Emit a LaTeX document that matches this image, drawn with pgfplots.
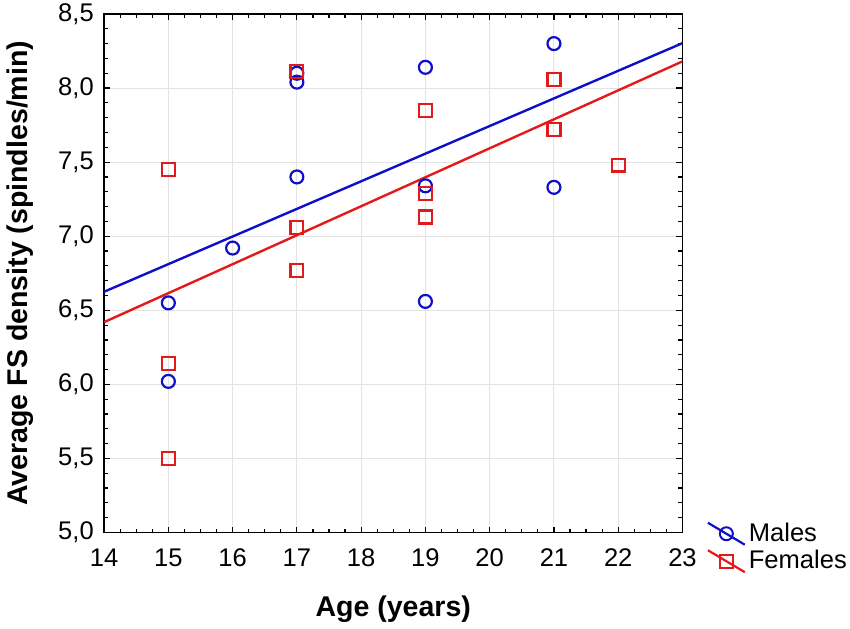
\documentclass[border=0pt]{standalone}
\usepackage{fontspec}
\setmainfont{Liberation Sans}
\usepackage{pgfplots}
\pgfplotsset{compat=1.18}
\definecolor{mblue}{RGB}{15,15,200}
\definecolor{fred}{RGB}{228,25,25}
\begin{document}
\begin{tikzpicture}
\begin{axis}[
  scale only axis,
  width=290pt, height=260pt,
  xmin=14, xmax=23, ymin=5, ymax=8.5,
  xtick={14,...,23},
  ytick={5,5.5,...,8.5},
  minor x tick num=3,
  minor y tick num=4,
  tick align=inside,
  major tick length=3pt,
  minor tick length=2pt,
  every tick/.style={black, line width=0.6pt},
  axis line style={black, line width=0.9pt},
  grid=major,
  major grid style={gray!22, line width=0.5pt},
  /pgf/number format/assume math mode=true,
  yticklabel style={/pgf/number format/fixed, /pgf/number format/fixed zerofill, /pgf/number format/precision=1, /pgf/number format/use comma, anchor=east, inner sep=0pt, xshift=-5pt},
  xticklabel style={/pgf/number format/fixed, /pgf/number format/precision=0, anchor=north, inner sep=0pt, yshift=-8pt},
  ticklabel style={font=\fontsize{12.8}{14}\selectfont},
  xlabel={Age (years)},
  ylabel={Average FS density (spindles/min)},
  label style={font=\fontsize{14.3}{17}\selectfont\bfseries},
  xlabel style={at={(axis description cs:0.5,0)}, anchor=base, yshift=-42pt},
  ylabel style={at={(axis description cs:0,0.5)}, anchor=base, yshift=38.5pt},
  legend style={draw=none, fill=none, at={(axis description cs:1,0)}, anchor=west,
    xshift=12pt, yshift=-7.5pt, font=\fontsize{12.8}{14}\selectfont,
    row sep=0pt, inner sep=0pt, nodes={inner sep=1.5pt}},
  legend cell align=left,
]
\addplot[mblue, line width=1.2pt, forget plot] coordinates {(14,6.625) (23,8.303)};
\addplot[fred, line width=1.2pt, forget plot] coordinates {(14,6.42) (23,8.18)};
\addplot[only marks, mark=o, mark size=3.25pt, mblue, mark options={line width=1.1pt}, forget plot] coordinates {
(15,6.55) (15,6.02) (16,6.92) (17,8.10) (17,8.04) (17,7.40)
(19,8.14) (19,7.34) (19,6.56) (21,8.30) (21,7.33)
};
\addplot[only marks, mark=square, mark size=3.25pt, fred, mark options={line width=1.1pt}, forget plot] coordinates {
(15,7.45) (15,6.14) (15,5.50) (17,8.11) (17,7.06) (17,6.77)
(19,7.85) (19,7.29) (19,7.13) (21,8.06) (21,7.72) (22,7.48)
};
\addlegendimage{mblue, line width=1.1pt, mark=o, mark size=3.25pt, mark options={line width=1pt},
  legend image code/.code={\draw[mark repeat=2, mark phase=2] plot coordinates {(0pt,5.5pt) (9.25pt,0pt) (18.5pt,-5.5pt)};}}
\addlegendentry{Males}
\addlegendimage{fred, line width=1.1pt, mark=square, mark size=3.25pt, mark options={line width=1pt},
  legend image code/.code={\draw[mark repeat=2, mark phase=2] plot coordinates {(0pt,5.5pt) (9.25pt,0pt) (18.5pt,-5.5pt)};}}
\addlegendentry{Females}
\end{axis}
\path[use as bounding box] (-51pt,-47pt) rectangle (374pt,267pt);
\end{tikzpicture}
\end{document}
